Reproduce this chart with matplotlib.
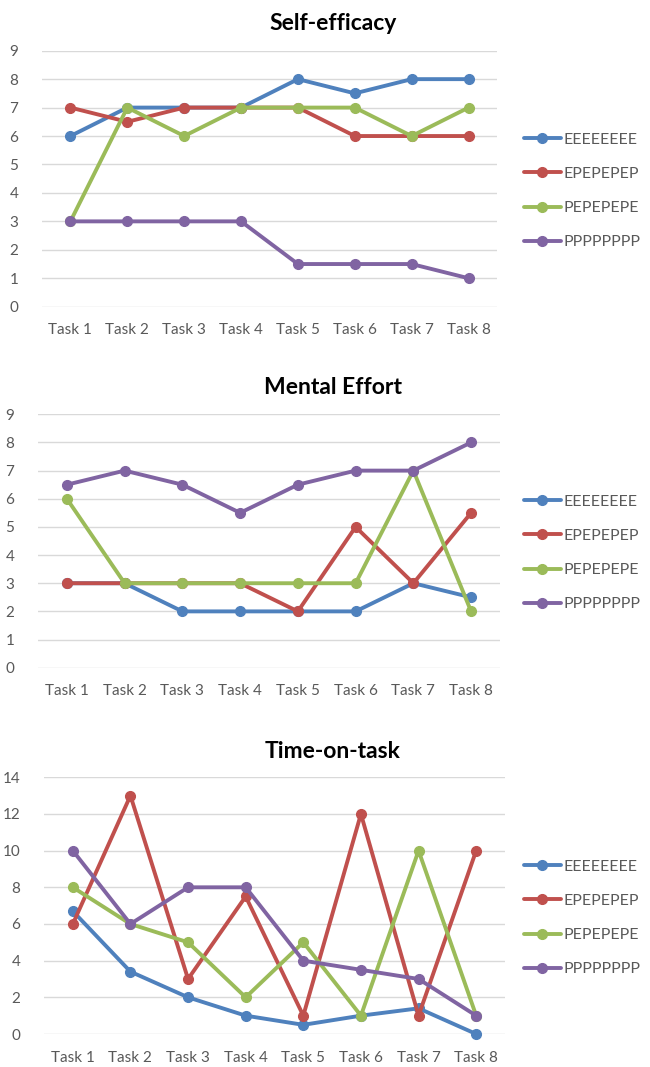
import numpy as np
import matplotlib.pyplot as plt

tasks = ['Task 1', 'Task 2', 'Task 3', 'Task 4', 'Task 5', 'Task 6', 'Task 7', 'Task 8']
groups = ['EEEEEEEE', 'EPEPEPEP', 'PEPEPEPE', 'PPPPPPPP']
colors = ['#4F81BD', '#C0504D', '#9BBB59', '#8064A2']

# Self-efficacy
se_eeee = [6, 7, 7, 7, 8, 7.5, 8, 8]
se_epep = [7, 6.5, 7, 7, 7, 6, 6, 6]
se_pepe = [3, 7, 6, 7, 7, 7, 6, 7]
se_pppp = [3, 3, 3, 3, 1.5, 1.5, 1.5, 1]

# Mental effort
me_eeee = [3, 3, 2, 2, 2, 2, 3, 2.5]
me_epep = [3, 3, 3, 3, 2, 5, 3, 5.5]
me_pepe = [6, 3, 3, 3, 3, 3, 7, 2]
me_pppp = [6.5, 7, 6.5, 5.5, 6.5, 7, 7, 8]

# Time-on-task
tt_eeee = [6.7, 3.4, 2, 1, 0.5, 1, 1.4, 0]
tt_epep = [6, 13, 3, 7.5, 1, 12, 1, 10]
tt_pepe = [8, 6, 5, 2, 5, 1, 10, 1]
tt_pppp = [10, 6, 8, 8, 4, 3.5, 3, 1]

plt.rcParams['font.family'] = ['Lato', 'DejaVu Sans']

W, H = 650, 1067
fig = plt.figure(figsize=(W / 100, H / 100), dpi=100)

panels = [
    # title, series, ymax, ystep, (left, right, top, bottom) px, title y px, legend center y px
    ('Self-efficacy', [se_eeee, se_epep, se_pepe, se_pppp], 9, 1, (42, 497, 50.7, 306.7), 23, 191),
    ('Mental Effort', [me_eeee, me_epep, me_pepe, me_pppp], 9, 1, (38, 500, 414.3, 667.7), 388, 553),
    ('Time-on-task', [tt_eeee, tt_epep, tt_pepe, tt_pppp], 14, 2, (44, 505, 777.3, 1034), 752, 918),
]

x = np.arange(len(tasks))
for title, series, ymax, ystep, (l, r, t, b), ty, ly in panels:
    ax = fig.add_axes([l / W, 1 - b / H, (r - l) / W, (b - t) / H])
    for vals, c, name in zip(series, colors, groups):
        ax.plot(x, vals, color=c, lw=2.8, marker='o', ms=7, label=name,
                solid_capstyle='round', clip_on=False)
    ax.set_xlim(-0.5, len(tasks) - 0.5)
    ax.set_ylim(0, ymax)
    ax.set_yticks(np.arange(0, ymax + 0.1, ystep))
    ax.set_xticks(x)
    ax.set_xticklabels(tasks)
    ax.grid(axis='y', color='#D9D9D9', lw=1)
    ax.set_axisbelow(True)
    for s in ax.spines.values():
        s.set_visible(False)
    ax.tick_params(length=0, labelsize=11, colors='#595959', pad=12)
    ax.tick_params(axis='y', pad=17)
    fig.text(333 / W, 1 - ty / H, title, ha='center', va='center',
             fontsize=16.5, fontweight='bold', color='black')
    ax.legend(loc='center left', bbox_to_anchor=(524 / W, 1 - ly / H),
              bbox_transform=fig.transFigure, frameon=False, fontsize=11.5,
              handlelength=2.3, labelspacing=1.25, handletextpad=0.2,
              borderpad=0, borderaxespad=0, labelcolor='#595959')

fig.savefig('out.png', dpi=100)
